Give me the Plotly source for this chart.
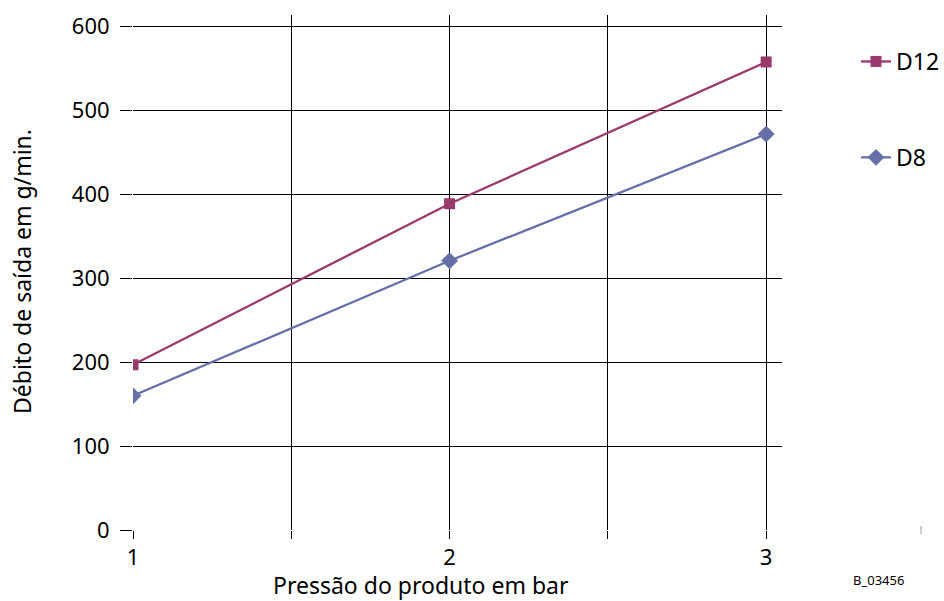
import plotly.graph_objects as go

pressure = [1, 2, 3]
d12 = [197, 389, 558]
d8 = [160, 321, 472]
x_tickvals = [1, 1.5, 2, 2.5, 3]
x_ticktext = ["1", "", "2", "", "3"]
y_tickvals = [0, 100, 200, 300, 400, 500, 600]

c12 = "#9A3A6C"
c8 = "#6670A6"
font = "Noto Sans"

W, H = 944, 601
L, R, T, B = 133, 162, 15, 71
PW = W - L - R
PH = H - T - B


def px(xp):
    return (xp - L) / PW


def py(yp):
    return (H - B - yp) / PH


fig = go.Figure()
fig.add_trace(go.Scatter(x=pressure, y=d12, name="D12", mode="lines+markers",
                         legendgroup="a",
                         line=dict(color=c12, width=2.3),
                         marker=dict(symbol="square", size=11, color=c12)))
fig.add_trace(go.Scatter(x=pressure, y=d8, name="D8", mode="lines+markers",
                         legendgroup="b",
                         line=dict(color=c8, width=2.3),
                         marker=dict(symbol="diamond", size=13, color=c8)))

fig.update_layout(
    width=W, height=H,
    margin=dict(l=L, r=R, t=T, b=B, autoexpand=False),
    plot_bgcolor="white", paper_bgcolor="white",
    font=dict(family=font, size=22, color="black"),
    showlegend=True,
    legend=dict(xref="container", yref="container",
                x=856 / W, y=1 - 40 / H, xanchor="left", yanchor="top",
                tracegroupgap=63, traceorder="grouped",
                font=dict(size=23), bgcolor="rgba(0,0,0,0)"),
    xaxis=dict(range=[1, 3.05], tickvals=x_tickvals, ticktext=x_ticktext,
               showgrid=True, gridcolor="black", gridwidth=1,
               ticks="outside", ticklen=8, tickcolor="black", tickwidth=1,
               showline=False, zeroline=False),
    yaxis=dict(range=[0, 614], tickvals=y_tickvals,
               showgrid=True, gridcolor="black", gridwidth=1,
               ticks="outside", ticklen=12, tickcolor="black", tickwidth=1,
               ticklabelstandoff=6,
               showline=False, zeroline=False),
    shapes=[
        dict(type="line", xref="paper", yref="paper",
             x0=px(921), x1=px(921), y0=py(526), y1=py(534),
             line=dict(color="#999999", width=1)),
    ],
    annotations=[
        dict(text="Pressão do produto em bar", xref="paper", yref="paper",
             x=px(421), y=py(585), xanchor="center", yanchor="middle",
             showarrow=False, font=dict(size=23)),
        dict(text="Débito de saída em g/min.", xref="paper", yref="paper",
             x=px(22), y=py(272), textangle=-90, xanchor="center",
             yanchor="middle", showarrow=False, font=dict(size=23)),
        dict(text="B_03456", xref="paper", yref="paper",
             x=px(878), y=py(580), xanchor="center", yanchor="middle",
             showarrow=False, font=dict(size=13)),
    ],
)

fig.write_html("out.html", post_script="document.body.style.margin='0';",
               config={"displayModeBar": False})
